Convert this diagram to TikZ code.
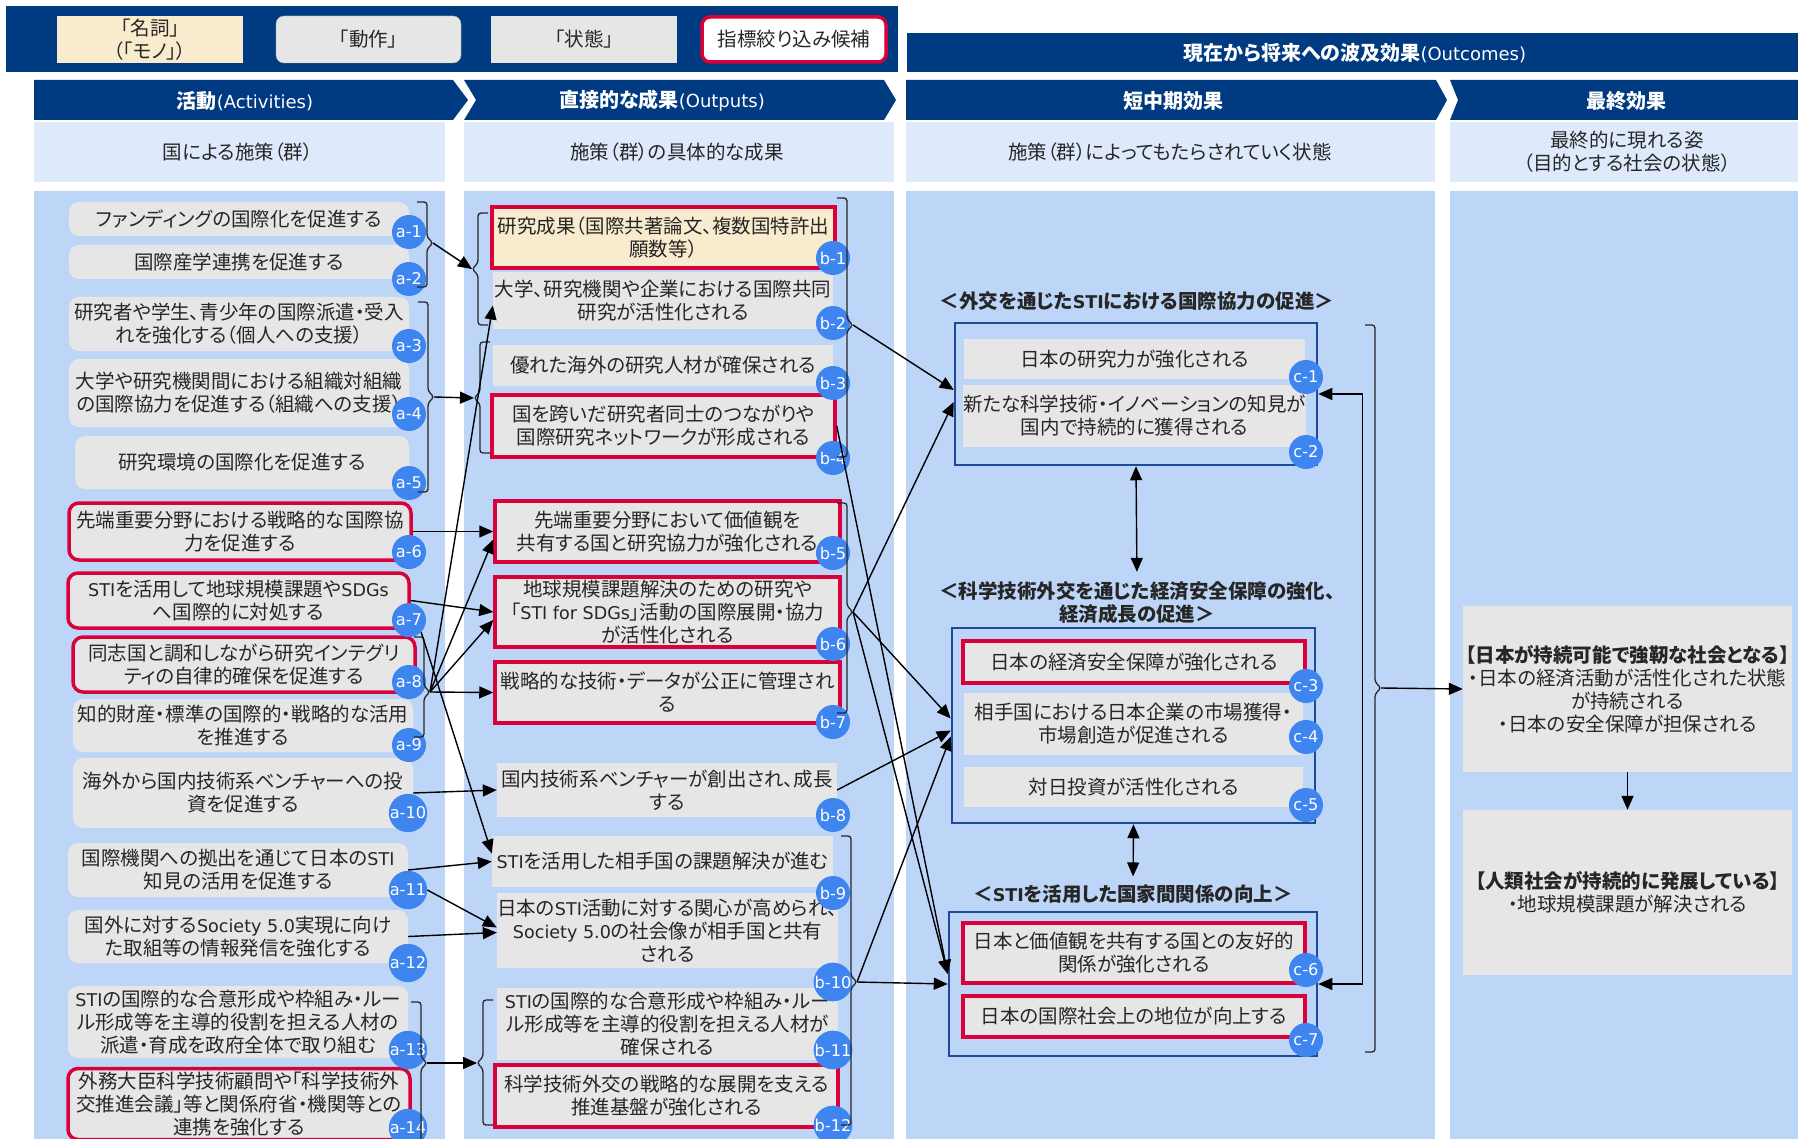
\documentclass[tikz,border=0pt]{standalone}
\usepackage{fontspec}
\setmainfont{Noto Sans CJK JP}[RawFeature=+palt]
\newfontfamily\latf{DejaVu Sans}[Scale=0.9]
\newcommand\LT[1]{{\latf #1}}
\usetikzlibrary{arrows.meta,calc}
\definecolor{navy}{RGB}{0,58,128}
\definecolor{redb}{RGB}{218,0,58}
\definecolor{grayb}{RGB}{230,230,230}
\definecolor{beige}{RGB}{249,235,205}
\definecolor{bodyb}{RGB}{189,214,247}
\definecolor{subb}{RGB}{222,234,251}
\definecolor{badgeb}{RGB}{62,133,240}
\definecolor{txt}{RGB}{38,38,38}
\definecolor{cbord}{RGB}{30,75,150}
\tikzset{
 base/.style={font=\fontsize{19.5}{23}\selectfont, text=txt, align=center, inner sep=0pt, anchor=center},
 act/.style={base, fill=grayb, rounded corners=10pt},
 actr/.style={act, draw=redb, line width=3.5pt},
 st/.style={base, fill=grayb},
 str/.style={st, draw=redb, line width=3.5pt},
 grp/.style={draw=cbord, line width=2.5pt, inner sep=0pt},
 badge/.style={circle, fill=badgeb, text=white, inner sep=0pt, minimum size=34pt, font=\fontsize{18}{18}\selectfont\latf},
 brk/.style={line width=1.3pt, black!85, rounded corners=3pt},
 arr/.style={line width=1.4pt, -{Triangle[length=14pt,width=12pt]}},
 dbl/.style={line width=1.4pt, {Triangle[length=14pt,width=12pt]}-{Triangle[length=14pt,width=12pt]}},
 hdr/.style={font=\fontsize{20}{23}\selectfont, text=white, inner sep=0pt},
 sub/.style={font=\fontsize{19.5}{23}\selectfont, text=txt, align=center, inner sep=0pt},
 lab/.style={font=\fontsize{19.5}{23}\selectfont\bfseries, text=txt, align=center, inner sep=0pt},
}
\newcommand\myRB[5]{\draw[brk] (#1-10,#2) -- (#1,#2) -- (#1,#4-6) -- (#1+6,#4) -- (#1,#4+6) -- (#1,#3) -- (#1-10,#3); \coordinate (#5) at (#1+6,#4);}
\newcommand\myLB[5]{\draw[brk] (#1+10,#2) -- (#1,#2) -- (#1,#4-6) -- (#1-6,#4) -- (#1,#4+6) -- (#1,#3) -- (#1+10,#3); \coordinate (#5) at (#1-6,#4);}
\begin{document}
\begin{tikzpicture}[x=1pt,y=-1pt]
\useasboundingbox (0,0) rectangle (1798,1139);
\clip (0,0) rectangle (1798,1139);
\fill[white] (0,0) rectangle (1798,1139);
% top banners
\fill[navy] (6,6) rectangle (898,72);
\fill[navy] (907,33) rectangle (1798,72);
\node[hdr] (outc) at (1355,53) {{\bfseries 現在から将来への波及効果}\LT{(Outcomes)}};
% legend
\node[base, fill=beige, minimum width=186pt, minimum height=47pt] (lg1) at (150,39.5) {「名詞」\\（「モノ」）};
\node[base, fill=grayb, draw=gray!60, rounded corners=8pt, minimum width=185pt, minimum height=47pt] (lg2) at (368.5,39.5) {「動作」};
\node[base, fill=grayb, minimum width=186pt, minimum height=47pt] (lg3) at (584,39.5) {「状態」};
\node[base, fill=white, draw=redb, line width=3.5pt, rounded corners=8pt, minimum width=184pt, minimum height=45pt] (lg4) at (794,39.5) {指標絞り込み候補};
% chevrons
\fill[navy] (34,80) -- (453,80) -- (468,100) -- (453,120) -- (34,120) -- cycle;
\fill[navy] (464,80) -- (884,80) -- (896,100) -- (884,120) -- (464,120) -- (476,100) -- cycle;
\fill[navy] (906,80) -- (1436,80) -- (1447,100) -- (1436,120) -- (906,120) -- cycle;
\fill[navy] (1450,80) -- (1798,80) -- (1798,120) -- (1450,120) -- (1458,100) -- cycle;
\node[hdr] (h1) at (245,101) {{\bfseries 活動}\LT{(Activities)}};
\node[hdr] (h2) at (662,101) {{\bfseries 直接的な成果}\LT{(Outputs)}};
\node[hdr] (h3) at (1173,101) {\bfseries 短中期効果};
\node[hdr] (h4) at (1626,101) {\bfseries 最終効果};
% sub headers
\fill[subb] (34,122) rectangle (445,182);
\fill[subb] (464,122) rectangle (894,182);
\fill[subb] (906,122) rectangle (1435,182);
\fill[subb] (1450,122) rectangle (1798,182);
\node[sub] (s1) at (238,152) {国による施策（群）};
\node[sub] (s2) at (677,152) {施策（群）の具体的な成果};
\node[sub] (s3) at (1170,152) {施策（群）によってもたらされていく状態};
\node[sub] (s4) at (1627,152) {最終的に現れる姿\\（目的とする社会の状態）};
% body
\fill[bodyb] (34,191) rectangle (445,1139);
\fill[bodyb] (464,191) rectangle (894,1139);
\fill[bodyb] (906,191) rectangle (1435,1139);
\fill[bodyb] (1450,191) rectangle (1798,1139);
% activities
\node[act, minimum width=340pt, minimum height=34pt] (a1) at (239,219) {ファンディングの国際化を促進する};
\node[act, minimum width=340pt, minimum height=34pt] (a2) at (239,262) {国際産学連携を促進する};
\node[act, minimum width=340pt, minimum height=54pt] (a3) at (239,324) {研究者や学生、青少年の国際派遣・受入\\れを強化する（個人への支援）};
\node[act, minimum width=340pt, minimum height=68pt] (a4) at (239,393) {大学や研究機関間における組織対組織\\の国際協力を促進する（組織への支援）};
\node[act, minimum width=334pt, minimum height=53pt] (a5) at (242,462.5) {研究環境の国際化を促進する};
\node[actr, minimum width=342pt, minimum height=57pt] (a6) at (240,531.5) {先端重要分野における戦略的な国際協\\力を促進する};
\node[actr, minimum width=341pt, minimum height=55pt] (a7) at (238.5,600.5) {\LT{STI}を活用して地球規模課題や\LT{SDGs}\\へ国際的に対処する};
\node[actr, minimum width=342pt, minimum height=55pt] (a8) at (244,664.5) {同志国と調和しながら研究インテグリ\\ティの自律的確保を促進する};
\node[act, minimum width=340pt, minimum height=53pt] (a9) at (243,725.5) {知的財産・標準の国際的・戦略的な活用\\を推進する};
\node[act, minimum width=340pt, minimum height=70pt] (a10) at (243,793) {海外から国内技術系ベンチャーへの投\\資を促進する};
\node[act, minimum width=340pt, minimum height=54pt] (a11) at (238,870) {国際機関への拠出を通じて日本の\LT{STI}\\知見の活用を促進する};
\node[act, minimum width=340pt, minimum height=53pt] (a12) at (238,936.5) {国外に対する\LT{Society 5.0}実現に向け\\た取組等の情報発信を強化する};
\node[act, minimum width=340pt, minimum height=72pt] (a13) at (238,1022) {\LT{STI}の国際的な合意形成や枠組み・ルー\\ル形成等を主導的役割を担える人材の\\派遣・育成を政府全体で取り組む};
\node[actr, minimum width=342pt, minimum height=71pt] (a14) at (239,1104) {外務大臣科学技術顧問や「科学技術外\\交推進会議」等と関係府省・機関等との\\連携を強化する};
% outputs
\node[str, fill=beige, minimum width=343pt, minimum height=61pt] (b1) at (663.5,237.5) {研究成果（国際共著論文、複数国特許出\\願数等）};
\node[st, minimum width=340pt, minimum height=57pt] (b2) at (663,300.5) {大学、研究機関や企業における国際共同\\研究が活性化される};
\node[st, minimum width=340pt, minimum height=41pt] (b3) at (663,365.5) {優れた海外の研究人材が確保される};
\node[str, minimum width=343pt, minimum height=62pt] (b4) at (663.5,426) {国を跨いだ研究者同士のつながりや\\国際研究ネットワークが形成される};
\node[str, minimum width=345pt, minimum height=61pt] (b5) at (667.5,531.5) {先端重要分野において価値観を\\共有する国と研究協力が強化される};
\node[str, minimum width=345pt, minimum height=70pt] (b6) at (667.5,612) {地球規模課題解決のための研究や\\「\LT{STI for SDGs}」活動の国際展開・協力\\が活性化される};
\node[str, minimum width=345pt, minimum height=61pt] (b7) at (667.5,692.5) {戦略的な技術・データが公正に管理され\\る};
\node[st, minimum width=340pt, minimum height=54pt] (b8) at (667,790) {国内技術系ベンチャーが創出され、成長\\する};
\node[st, minimum width=341pt, minimum height=51pt] (b9) at (662.5,861.5) {\LT{STI}を活用した相手国の課題解決が進む};
\node[st, minimum width=341pt, minimum height=75pt] (b10) at (667.5,930.5) {日本の\LT{STI}活動に対する関心が高められ、\\\LT{Society 5.0}の社会像が相手国と共有\\される};
\node[st, minimum width=341pt, minimum height=72pt] (b11) at (667.5,1024) {\LT{STI}の国際的な合意形成や枠組み・ルー\\ル形成等を主導的役割を担える人材が\\確保される};
\node[str, minimum width=343pt, minimum height=62pt] (b12) at (666.5,1096) {科学技術外交の戦略的な展開を支える\\推進基盤が強化される};
% outcome groups
\node[lab] (L1) at (1137,301) {＜外交を通じた\LT{STI}における国際協力の促進＞};
\node[lab] (L2) at (1137,603) {＜科学技術外交を通じた経済安全保障の強化、\\経済成長の促進＞};
\node[lab] (L3) at (1133,894) {＜\LT{STI}を活用した国家間関係の向上＞};
\node[grp, minimum width=362pt, minimum height=142pt] (cbox1) at (1136,394) {};
\node[grp, minimum width=363pt, minimum height=195pt] (cbox2) at (1133.5,725.5) {};
\node[grp, minimum width=368pt, minimum height=144pt] (cbox3) at (1133,984) {};
\node[st, minimum width=341pt, minimum height=40pt] (c1) at (1134.5,359) {日本の研究力が強化される};
\node[st, minimum width=341pt, minimum height=62pt] (c2) at (1134.5,416) {新たな科学技術・イノベーションの知見が\\国内で持続的に獲得される};
\node[str, minimum width=342pt, minimum height=42pt] (c3) at (1134,662) {日本の経済安全保障が強化される};
\node[st, minimum width=339pt, minimum height=62pt] (c4) at (1133.5,724) {相手国における日本企業の市場獲得・\\市場創造が促進される};
\node[st, minimum width=339pt, minimum height=40pt] (c5) at (1133.5,787) {対日投資が活性化される};
\node[str, minimum width=342pt, minimum height=60pt] (c6) at (1134,953) {日本と価値観を共有する国との友好的\\関係が強化される};
\node[str, minimum width=342pt, minimum height=41pt] (c7) at (1134,1016.5) {日本の国際社会上の地位が向上する};
% final
\node[st, minimum width=329pt, minimum height=166pt] (f1) at (1627.5,689) {{\bfseries 【日本が持続可能で強靭な社会となる】}\\・日本の経済活動が活性化された状態\\が持続される\\・日本の安全保障が担保される};
\node[st, minimum width=329pt, minimum height=165pt] (f2) at (1627.5,892.5) {{\bfseries 【人類社会が持続的に発展している】}\\・地球規模課題が解決される};
% badges
\node[badge] (ba1) at (409,232) {a-1};
\node[badge] (ba2) at (409,279) {a-2};
\node[badge] (ba3) at (409,346) {a-3};
\node[badge] (ba4) at (409,414) {a-4};
\node[badge] (ba5) at (409,483) {a-5};
\node[badge] (ba6) at (409,552) {a-6};
\node[badge] (ba7) at (409,620) {a-7};
\node[badge] (ba8) at (409,682) {a-8};
\node[badge] (ba9) at (409,745) {a-9};
\node[badge] (ba10) at (408,813) {a-10};
\node[badge] (ba11) at (408,890) {a-11};
\node[badge] (ba12) at (408,963) {a-12};
\node[badge] (ba13) at (408,1050) {a-13};
\node[badge] (ba14) at (408,1128) {a-14};
\node[badge] (bb1) at (833,258) {b-1};
\node[badge] (bb2) at (833,323) {b-2};
\node[badge] (bb3) at (833,383) {b-3};
\node[badge] (bb4) at (833,458) {b-4};
\node[badge] (bb5) at (833,553) {b-5};
\node[badge] (bb6) at (833,644) {b-6};
\node[badge] (bb7) at (833,722) {b-7};
\node[badge] (bb8) at (833,815) {b-8};
\node[badge] (bb9) at (833,893) {b-9};
\node[badge] (bb10) at (833,982) {b-10};
\node[badge] (bb11) at (833,1050) {b-11};
\node[badge] (bb12) at (833,1125) {b-12};
\node[badge] (bc1) at (1306,377) {c-1};
\node[badge] (bc2) at (1306,452) {c-2};
\node[badge] (bc3) at (1306,686) {c-3};
\node[badge] (bc4) at (1306,737) {c-4};
\node[badge] (bc5) at (1306,805) {c-5};
\node[badge] (bc6) at (1306,970) {c-6};
\node[badge] (bc7) at (1306,1040) {c-7};
% brackets
\myRB{427}{202}{287}{243}{tA1}
\myRB{428}{302}{492}{397}{tA2}
\myRB{424}{637}{737}{692}{tA3}
\myRB{421}{1002}{1150}{1063}{tA4}
\myLB{478}{213}{325}{269}{tB1}
\myLB{480}{342}{453}{398}{tB2}
\myLB{483}{1000}{1125}{1063}{tB4}
\myRB{847}{198}{457}{325}{tR1}
\myRB{847}{503}{713}{612}{tR2}
\myRB{851}{836}{1125}{982}{tR3}
\myRB{1375}{325}{1052}{688}{tRC}
% connectors
\draw[arr] (tA1) -- (tB1);
\draw[arr] (tA2) -- (tB2);
\draw[arr] (a6.east) -- (b5.west);
\draw[arr] (a7.east) -- (b6.west);
\draw[arr] (ba7.south east) -- ($(b9.west)+(0,-8)$);
\draw[arr] (tA3) -- (b7.west);
\draw[arr] (tA3) -- ($(b6.west)+(0,8)$);
\draw[arr] (tA3) -- ($(b5.west)+(0,8)$);
\draw[arr] (tA3) -- ($(b2.west)+(0,5)$);
\draw[arr] (a10.east) -- (b8.west);
\draw[arr] (a11.east) -- (b9.west);
\draw[arr] (ba11.east) -- ($(b10.west)+(0,-3)$);
\draw[arr] (a12.east) -- ($(b10.west)+(0,2)$);
\draw[arr] (tA4) -- (tB4);
\draw[arr] (tR1) -- ($(cbox1.west)+(0,-4)$);
\draw[arr] (tR2) -- ($(cbox1.west)+(0,8)$);
\draw[arr] (tR2) -- ($(cbox2.west)+(0,-7)$);
\draw[arr] (tR2) -- ($(cbox3.west)+(0,-10)$);
\draw[arr] (b4.east) -- ($(cbox3.west)+(0,-10)$);
\draw[arr] (b8.east) -- ($(cbox2.west)+(0,5)$);
\draw[arr] (tR3) -- (cbox3.west);
\draw[arr] (tR3) -- ($(cbox2.west)+(0,11)$);
\draw[dbl] (cbox1.east) -- ++(44,0) |- (cbox3.east);
\draw[arr] (tRC) -- (f1.west);
\draw[arr] (f1.south) -- (f2.north);
\draw[dbl, shorten >=10pt] (cbox1.south) -- (L2.north);
\draw[dbl, shorten >=8pt] (cbox2.south) -- (L3.north);
\end{tikzpicture}
\end{document}
